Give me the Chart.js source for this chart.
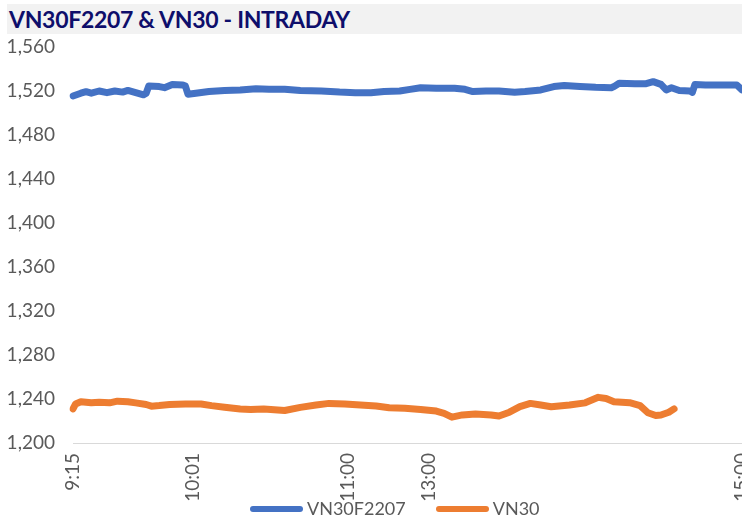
<!DOCTYPE html>
<html>
<head>
<meta charset="utf-8">
<script src="https://cdn.jsdelivr.net/npm/chart.js@4"></script>
<style>
  html, body { margin: 0; padding: 0; background: #fff; overflow: hidden; }
  #wrap { position: relative; width: 742px; height: 518px; }
  #title {
    position: absolute; left: 7px; top: 4px; width: 735px; height: 30px;
    background: #F2F2F2; color: #0E0E6B; letter-spacing: -0.3px;
    font: bold 23px Lato, sans-serif; line-height: 31px; padding-left: 2px; box-sizing: border-box;
  }
  #legend {
    position: absolute; left: 250px; top: 497px; height: 22px;
    font: 18px Lato, sans-serif; color: #595959; line-height: 22px; white-space: nowrap;
  }
  #legend span.item { margin-right: 30px; }
  #legend span.bar {
    display: inline-block; width: 53px; height: 6px; border-radius: 3px;
    vertical-align: middle; margin-right: 4px; position: relative; top: -1px;
  }
</style>
</head>
<body>
<div id="wrap">
  <canvas id="chart"></canvas>
  <div id="title">VN30F2207 &amp; VN30 - INTRADAY</div>
  <div id="legend"></div>
</div>
<script>
// trading sessions (category axis is one label per minute)
const sessions = [['9:15', '11:30'], ['13:00', '15:00']];
const shownTicks = ['9:15', '10:01', '11:00', '13:00', '15:00'];

// VN30F2207 futures
const futTimes = ['9:15', '9:18', '9:20', '9:22', '9:25', '9:28', '9:31', '9:34', '9:36', '9:39',
  '9:42', '9:43', '9:44', '9:48', '9:50', '9:53', '9:57', '9:58', '9:59', '10:02',
  '10:07', '10:13', '10:19', '10:25', '10:30', '10:36', '10:42', '10:50', '10:57', '11:03',
  '11:09', '11:14', '11:20', '11:24', '11:28', '13:03', '13:10', '13:14', '13:17', '13:22',
  '13:27', '13:33', '13:37', '13:43', '13:48', '13:52', '13:58', '14:04', '14:10', '14:11',
  '14:13', '14:19', '14:23', '14:26', '14:29', '14:31', '14:33', '14:36', '14:40', '14:41',
  '14:42', '14:46', '14:52', '14:58', '15:00'];
const futValues = [1515.5, 1518, 1519.4, 1518, 1520, 1518.5, 1520, 1519, 1520.5, 1518.5,
  1516.5, 1518, 1524.5, 1524, 1523, 1526, 1525.5, 1524.5, 1517, 1518,
  1519.5, 1520.5, 1521, 1522, 1521.5, 1521.5, 1520.5, 1520, 1519, 1518.5,
  1518.5, 1519.5, 1520, 1521.5, 1523, 1522.5, 1522.5, 1521.5, 1519.5, 1520,
  1520, 1518.8, 1519.5, 1521, 1524, 1525, 1524, 1523.3, 1523, 1524,
  1527, 1526.5, 1526.5, 1528.5, 1526, 1521, 1523, 1520.5, 1520, 1518.8,
  1526, 1525.5, 1525.5, 1525.5, 1521];

// VN30 index
const vn30Times = ['9:15', '9:16', '9:18', '9:22', '9:25', '9:29', '9:32', '9:36', '9:39', '9:43',
  '9:45', '9:48', '9:52', '9:58', '10:04', '10:08', '10:13', '10:19', '10:23', '10:28',
  '10:36', '10:42', '10:48', '10:53', '10:59', '11:05', '11:11', '11:16', '11:22', '11:28',
  '13:03', '13:06', '13:09', '13:13', '13:18', '13:24', '13:27', '13:31', '13:35', '13:39',
  '13:43', '13:47', '13:54', '14:00', '14:05', '14:08', '14:11', '14:17', '14:21', '14:24',
  '14:27', '14:29', '14:32', '14:34'];
const vn30Values = [1231, 1235.5, 1237.5, 1236.5, 1237, 1236.5, 1238, 1237.5, 1236.5, 1235,
  1233.5, 1234, 1235, 1235.5, 1235.5, 1234, 1232.5, 1231, 1230.5, 1231,
  1229.5, 1232.4, 1234.5, 1236, 1235.5, 1234.5, 1233.6, 1232, 1231.5, 1230.5,
  1229, 1227, 1223.5, 1225.5, 1226.4, 1225.5, 1224.5, 1228, 1233, 1236,
  1234.5, 1233, 1234.5, 1236.5, 1241.5, 1240.5, 1237.5, 1236.6, 1234, 1227.5,
  1225, 1225.5, 1228, 1231];

function toMin(t) { const p = t.split(':'); return +p[0] * 60 + +p[1]; }
function toLabel(m) { return Math.floor(m / 60) + ':' + String(m % 60).padStart(2, '0'); }

const labels = [];
sessions.forEach(s => {
    for (let m = toMin(s[0]); m <= toMin(s[1]); m++) labels.push(toLabel(m));
});

const pts = (times, vals) => times.map((t, i) => ({ x: t, y: vals[i] }));

const grey = '#595959';
const ctx = document.getElementById('chart').getContext('2d');
const chart = new Chart(ctx, {
    type: 'line',
    data: {
        labels: labels,
        datasets: [{
            label: 'VN30F2207',
            data: pts(futTimes, futValues),
            borderColor: '#4472C4',
            borderWidth: 7,
            pointRadius: 0,
            borderCapStyle: 'round',
            borderJoinStyle: 'round'
        }, {
            label: 'VN30',
            data: pts(vn30Times, vn30Values),
            borderColor: '#ED7D31',
            borderWidth: 7,
            pointRadius: 0,
            borderCapStyle: 'round',
            borderJoinStyle: 'round'
        }]
    },
    options: {
        responsive: true,
        maintainAspectRatio: false,
        animation: false,
        layout: { padding: { top: 47, left: 8, right: 0, bottom: 0 } },
        plugins: {
            legend: { display: false },
            tooltip: { enabled: false }
        },
        scales: {
            x: {
                grid: { display: false },
                border: { display: true, color: '#D9D9D9', width: 1 },
                ticks: {
                    autoSkip: false, maxRotation: 90, minRotation: 90, padding: 2,
                    color: grey, font: { family: 'Lato', size: 19 },
                    callback: function (v) {
                        const l = this.getLabelForValue(v);
                        return shownTicks.includes(l) ? l : '';
                    }
                },
                afterFit: s => { s.paddingRight = 0; s.height = 75; }
            },
            y: {
                min: 1200, max: 1560,
                grid: { display: false },
                border: { display: false },
                ticks: {
                    stepSize: 40, padding: 10,
                    color: grey, font: { family: 'Lato', size: 19 },
                    callback: v => v.toLocaleString('en-US')
                },
                afterFit: s => { s.width = 65; }
            }
        }
    }
});

// legend built from the datasets
document.getElementById('legend').innerHTML = chart.data.datasets.map(d =>
    '<span class="item"><span class="bar" style="background:' + d.borderColor + '"></span>' + d.label + '</span>'
).join('');
</script>
</body>
</html>
